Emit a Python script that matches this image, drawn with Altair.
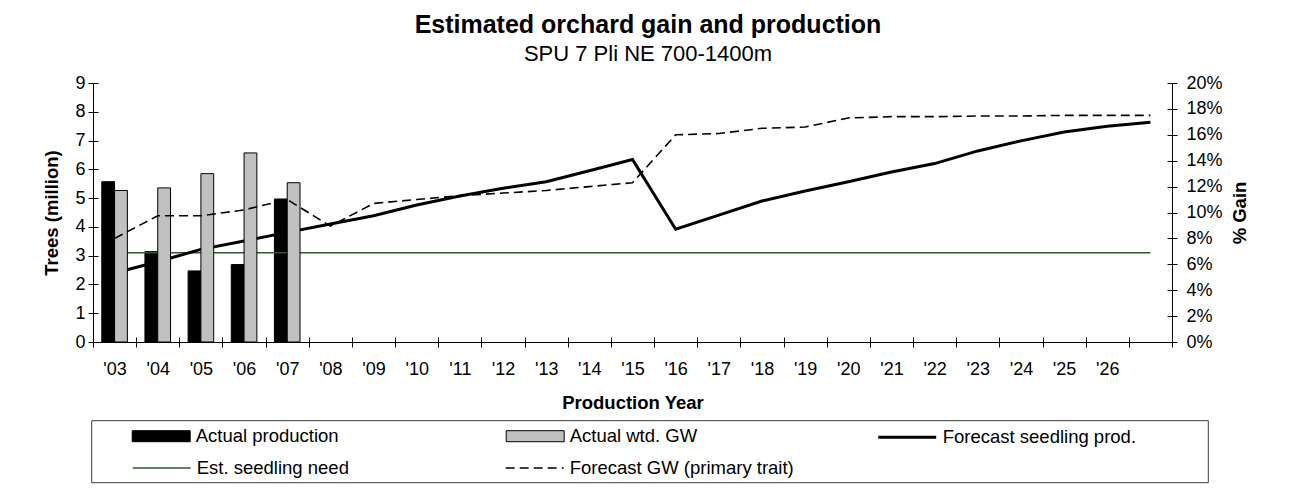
import altair as alt
import pandas as pd

FONT = "Liberation Sans"
GREEN = "#2d5a27"

# ---------------- data ----------------
years = ["'03", "'04", "'05", "'06", "'07", "'08", "'09", "'10", "'11", "'12",
         "'13", "'14", "'15", "'16", "'17", "'18", "'19", "'20", "'21", "'22",
         "'23", "'24", "'25", "'26", "'27"]
actual_years = ["'03", "'04", "'05", "'06", "'07"]
actual_production = [5.57, 3.14, 2.47, 2.69, 4.97]          # million trees
actual_wtd_gw = [0.117, 0.119, 0.130, 0.146, 0.123]          # % gain
forecast_prod = [2.40, 2.79, 3.22, 3.51, 3.81, 4.10, 4.39, 4.76, 5.07, 5.34,
                 5.57, 5.95, 6.34, 3.92, 4.41, 4.90, 5.25, 5.57, 5.91, 6.20,
                 6.64, 6.99, 7.30, 7.50, 7.64]
forecast_gw = [0.080, 0.0975, 0.0975, 0.102, 0.110, 0.0895, 0.107, 0.110, 0.113, 0.115,
               0.117, 0.120, 0.123, 0.160, 0.161, 0.165, 0.166, 0.173, 0.174, 0.174,
               0.1745, 0.1745, 0.175, 0.175, 0.175]
seedling_need = [3.1, 3.1, 3.1, 3.1, 3.1, 3.1, 3.1, 3.1, 3.1, 3.1,
                 3.1, 3.1, 3.1, 3.1, 3.1, 3.1, 3.1, 3.1, 3.1, 3.1,
                 3.1, 3.1, 3.1, 3.1, 3.1]
left_ticks = [0, 1, 2, 3, 4, 5, 6, 7, 8, 9]
right_ticks = [0, 0.02, 0.04, 0.06, 0.08, 0.10, 0.12, 0.14, 0.16, 0.18, 0.20]
legend_bar_names = ["Actual production", "Actual wtd. GW"]
legend_fsp_names = ["Forecast seedling prod."]
legend_line_names = ["Est. seedling need", "Forecast GW (primary trait)"]

df_bar = pd.DataFrame({"year": actual_years, "prod": actual_production, "gw": actual_wtd_gw})
df_line = pd.DataFrame({"year": years, "fprod": forecast_prod, "fgw": forecast_gw,
                        "need": seedling_need})
df_leg_a = pd.DataFrame({"series": legend_bar_names, "year": [years[0]] * 2, "yv": [-10] * 2})
df_leg_b = pd.DataFrame({"series_b": legend_fsp_names, "year": [years[0]], "yv": [-1]})
df_leg_c = pd.DataFrame({"series_c": legend_line_names, "year": [years[0]] * 2, "yv": [-5] * 2})

W, H = 1079, 259

xscale = alt.Scale(domain=years, paddingInner=0, paddingOuter=0)
xaxis = alt.Axis(title="Production Year", labelAngle=0, tickBand="extent", orient="bottom",
                 labelPadding=13, titlePadding=15,
                 labelExpr="datum.value === \"'27\" ? '' : datum.label")
xenc = alt.X("year:N", sort=years, scale=xscale, axis=xaxis)
xenc_plain = alt.X("year:N", sort=years, scale=xscale, axis=None)
# inner half of the "cross" tick marks on the category axis
xenc_inner = alt.X("year:N", sort=years, scale=xscale,
                   axis=alt.Axis(orient="bottom", offset=-5, tickBand="extent", domain=False,
                                 labels=False, title=None, tickSize=5))


def yleft(field):
    return alt.Y(f"{field}:Q", scale=alt.Scale(domain=[0, 9]),
                 axis=alt.Axis(values=left_ticks, title="Trees (million)",
                               labelPadding=3, titlePadding=13))


def yright(field):
    return alt.Y(f"{field}:Q", scale=alt.Scale(domain=[0, 0.2]),
                 axis=alt.Axis(orient="right", values=right_ticks, format=".0%",
                               title="% Gain", titleAngle=270, labelPadding=9,
                               titlePadding=27))


rect_path = "M-1,-0.19H1V0.19H-1Z"
line_path = "M-1,0H1"

leg_common = dict(title=None, orient="none", direction="horizontal", labelFont=FONT,
                  labelFontSize=18.5, labelColor="black", labelOffset=5, padding=0,
                  labelLimit=500, symbolSize=3364)
leg_a = alt.Legend(legendX=38.7, legendY=323.7, columnPadding=165,
                   symbolStrokeWidth=1, **leg_common)
leg_b = alt.Legend(legendX=783.7, legendY=323.7, symbolStrokeWidth=3, **leg_common)
leg_c = alt.Legend(legendX=38.7, legendY=354.7, columnPadding=152,
                   symbolStrokeWidth=1.6, **leg_common)

# ---------------- left (trees) layers ----------------
bars_prod = alt.Chart(df_bar).mark_bar(width=12.8, xOffset=-6.4, color="black",
                                       stroke="black", strokeWidth=1).encode(
    x=xenc, y=yleft("prod"))
line_need = alt.Chart(df_line).mark_line(color=GREEN, strokeWidth=1.5).encode(
    x=xenc, y=yleft("need"))
line_prod = alt.Chart(df_line).mark_line(color="black", strokeWidth=3).encode(
    x=xenc, y=yleft("fprod"))
frame = alt.Chart(pd.DataFrame({"a": [0]})).mark_rect(
    fill="transparent", stroke="#3a3a3a", strokeWidth=1).encode(
    x=alt.value(-1.3), x2=alt.value(1115.3), y=alt.value(337.7), y2=alt.value(399.7))
pts_a = alt.Chart(df_leg_a).mark_point(clip=True, opacity=1, size=3364,
                                       strokeWidth=1).encode(
    x=xenc, y=yleft("yv"),
    shape=alt.Shape("series:N", legend=leg_a,
                    scale=alt.Scale(domain=legend_bar_names, range=[rect_path, rect_path])),
    fill=alt.Fill("series:N", legend=leg_a,
                  scale=alt.Scale(domain=legend_bar_names, range=["black", "#c0c0c0"])),
    stroke=alt.Stroke("series:N", legend=leg_a,
                      scale=alt.Scale(domain=legend_bar_names, range=["black", "black"])),
)
left = alt.layer(frame, bars_prod, line_need, line_prod, pts_a)

# ---------------- right (% gain) layers ----------------
bars_gw = alt.Chart(df_bar).mark_bar(width=12.8, xOffset=6.4, color="#c0c0c0",
                                     stroke="black", strokeWidth=1).encode(
    x=xenc_plain, y=yright("gw"))
line_gw = alt.Chart(df_line).mark_line(color="black", strokeWidth=1.6,
                                       strokeDash=[9, 5]).encode(
    x=xenc_plain, y=yright("fgw"))
pts_b = alt.Chart(df_leg_b).mark_point(clip=True, opacity=1, size=3364,
                                       strokeWidth=3).encode(
    x=xenc_plain, y=yright("yv"),
    shape=alt.Shape("series_b:N", legend=leg_b,
                    scale=alt.Scale(domain=legend_fsp_names, range=[line_path])),
    fill=alt.Fill("series_b:N", legend=leg_b,
                  scale=alt.Scale(domain=legend_fsp_names, range=["transparent"])),
    stroke=alt.Stroke("series_b:N", legend=leg_b,
                      scale=alt.Scale(domain=legend_fsp_names, range=["black"])),
)
right = alt.layer(bars_gw, line_gw, pts_b)

# ---------------- second legend row + inner ticks (left / bottom) ----------------
pts_c = alt.Chart(df_leg_c).mark_point(clip=True, opacity=1, size=3364,
                                       strokeWidth=1.6).encode(
    x=xenc_inner,
    y=alt.Y("yv:Q", scale=alt.Scale(domain=[0, 9]),
            axis=alt.Axis(orient="left", offset=-5, values=left_ticks, domain=False,
                          labels=False, title=None, tickSize=5)),
    shape=alt.Shape("series_c:N", legend=leg_c,
                    scale=alt.Scale(domain=legend_line_names, range=[line_path, line_path])),
    fill=alt.Fill("series_c:N", legend=leg_c,
                  scale=alt.Scale(domain=legend_line_names,
                                  range=["transparent", "transparent"])),
    stroke=alt.Stroke("series_c:N", legend=leg_c,
                      scale=alt.Scale(domain=legend_line_names, range=[GREEN, "black"])),
    strokeDash=alt.StrokeDash("series_c:N", legend=leg_c,
                              scale=alt.Scale(domain=legend_line_names,
                                              range=[[1, 0], [9, 5]])),
)

# inner ticks on the right (% gain) axis
inner_right = alt.Chart(df_line).mark_line(opacity=0).encode(
    x=xenc_plain,
    y=alt.Y("fgw:Q", scale=alt.Scale(domain=[0, 0.2]),
            axis=alt.Axis(orient="right", offset=-5, values=right_ticks, domain=False,
                          labels=False, title=None, tickSize=5)),
)

chart = alt.layer(left, right, pts_c, inner_right).resolve_scale(
    y="independent", shape="independent", fill="independent",
    stroke="independent", strokeDash="independent",
).resolve_axis(x="independent").properties(
    width=W, height=H,
    autosize=alt.AutoSizeParams(type="none"),
    padding={"left": 85, "top": 75, "right": 116, "bottom": 143},
    background="white",
    title=alt.TitleParams(
        text="Estimated orchard gain and production",
        subtitle="SPU 7 Pli NE 700-1400m",
        font=FONT, fontSize=25, fontWeight="bold", color="black",
        subtitleFont=FONT, subtitleFontSize=22, subtitleColor="black",
        anchor="middle", dx=15.5, offset=9, subtitlePadding=6,
    ),
).configure_view(strokeWidth=0).configure_axis(
    grid=False, domainColor="black", tickColor="black", labelColor="black",
    titleColor="black", labelFont=FONT, titleFont=FONT, labelFontSize=18,
    titleFontSize=18.5, titleFontWeight="bold", tickSize=5, domainWidth=1, tickWidth=1,
)

chart.save("out.html", embed_options={"renderer": "svg", "actions": False})
